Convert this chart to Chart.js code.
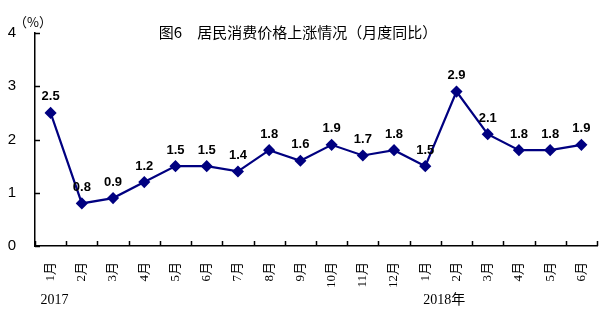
<!DOCTYPE html>
<html><head><meta charset="utf-8">
<script src="https://cdn.jsdelivr.net/npm/chart.js@4/dist/chart.umd.min.js"></script>
<style>html,body{margin:0;padding:0;background:#fff}#wrap{width:599px;height:325px}</style>
</head><body><div id="wrap"><canvas id="c" width="599" height="325"></canvas></div>
<script>
const categories = ['1月','2月','3月','4月','5月','6月','7月','8月','9月','10月','11月','12月','1月','2月','3月','4月','5月','6月'];
const cpiValues = [2.5,0.8,0.9,1.2,1.5,1.5,1.4,1.8,1.6,1.9,1.7,1.8,1.5,2.9,2.1,1.8,1.8,1.9];
const yTickValues = [0,1,2,3,4];
const yearLabels = ['2017','2018年'];
const yearStartIndex = [0,12];
const titleText = '图6　居民消费价格上涨情况（月度同比）';
const unitText = '（%）';

const serif = '"Liberation Serif","Noto Sans CJK SC",serif';
const sans = '"Liberation Sans",Arial,sans-serif';
const cjk = '"Noto Sans CJK SC",sans-serif';

const decorPlugin = {
  id: 'decor',
  afterDraw(chart) {
    const ctx = chart.ctx;
    const x = chart.scales.x, y = chart.scales.y;
    const area = chart.chartArea;
    ctx.save();
    ctx.strokeStyle = '#000';
    ctx.lineWidth = 1.5;
    yTickValues.forEach(v => {
      const py = Math.round(y.getPixelForValue(v)) + 0.5;
      ctx.beginPath(); ctx.moveTo(area.left, py); ctx.lineTo(area.left + 5, py); ctx.stroke();
    });
    const step = x.getPixelForValue(1) - x.getPixelForValue(0);
    for (let i = 0; i <= categories.length; i++) {
      const px = Math.round(x.getPixelForValue(i) - step / 2) + 0.5;
      ctx.beginPath(); ctx.moveTo(px, area.bottom); ctx.lineTo(px, area.bottom - 5); ctx.stroke();
    }
    const meta = chart.getDatasetMeta(0);
    ctx.fillStyle = '#000';
    ctx.font = 'bold 13px ' + sans;
    ctx.textAlign = 'center';
    ctx.textBaseline = 'middle';
    meta.data.forEach((pt, i) => {
      ctx.fillText(cpiValues[i].toFixed(1), pt.x, pt.y - 16);
    });
    ctx.font = '15px ' + cjk;
    ctx.textAlign = 'center';
    ctx.fillText(titleText, 298, 32);
    ctx.font = '13px ' + cjk;
    ctx.textAlign = 'left';
    ctx.fillText(unitText, 14, 22);
    ctx.font = '14px ' + serif;
    ctx.textAlign = 'center';
    const offs = [4, 19];
    yearLabels.forEach((t, k) => {
      ctx.fillText(t, x.getPixelForValue(yearStartIndex[k]) + offs[k], 300);
    });
    ctx.restore();
  }
};

new Chart(document.getElementById('c'), {
  type: 'line',
  data: {
    labels: categories,
    datasets: [{
      data: cpiValues,
      borderColor: '#000080',
      backgroundColor: '#000080',
      borderWidth: 2.2,
      pointStyle: 'rectRot',
      pointRadius: 4.5,
      pointBackgroundColor: '#000080',
      pointBorderColor: '#000080',
      tension: 0,
      clip: false
    }]
  },
  options: {
    responsive: false,
    animation: false,
    devicePixelRatio: 1,
    layout: { autoPadding: false, padding: { top: 33, right: 2, left: 0, bottom: 0 } },
    plugins: { legend: { display: false }, tooltip: { enabled: false }, title: { display: false } },
    scales: {
      x: {
        type: 'category',
        offset: true,
        grid: { display: false, drawTicks: false },
        border: { display: true, color: '#000', width: 1.5 },
        ticks: {
          autoSkip: false, minRotation: 90, maxRotation: 90, padding: 16,
          color: '#000', font: { family: serif, size: 13 }
        },
        afterFit(s) { s.height = 79; s.paddingLeft = 0; s.paddingRight = 0; }
      },
      y: {
        min: 0, max: 4,
        grid: { display: false, drawTicks: false },
        border: { display: true, color: '#000', width: 1.5 },
        ticks: {
          stepSize: 1, padding: 19, color: '#000',
          font: { family: sans, size: 15 }
        },
        afterFit(s) { s.width = 35; s.paddingTop = 0; s.paddingBottom = 0; }
      }
    }
  },
  plugins: [decorPlugin]
});
</script>
</body></html>
